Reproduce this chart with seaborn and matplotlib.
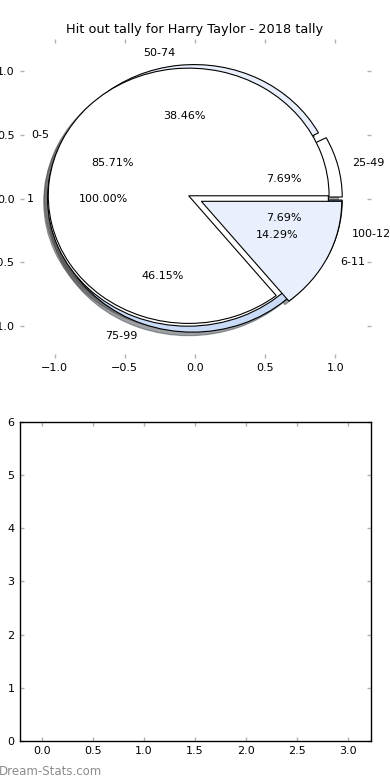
import matplotlib
matplotlib.use("Agg")
import numpy as np
import matplotlib.pyplot as plt
import seaborn as sns

title = "Hit out tally for Harry Taylor - 2018 tally"

# three tallies drawn on the same axes
games_labels = ["1"]
games_counts = [1]

hitout_labels = ["25-49", "50-74", "75-99", "100-124"]
hitout_counts = [1, 5, 6, 1]

kick_labels = ["0-5", "6-11"]
kick_counts = [6, 1]

pie_colors = ["white", "#e9effc", "#c9dbf7", "#a6c3ee"]

pie_ticks = [-1.0, -0.5, 0.0, 0.5, 1.0]
bottom_xticks = [0.0, 0.5, 1.0, 1.5, 2.0, 2.5, 3.0]
bottom_yticks = [0, 1, 2, 3, 4, 5, 6]

sns.set_style("white", {
    "xtick.direction": "in",
    "ytick.direction": "in",
    "xtick.top": True,
    "ytick.right": True,
    "xtick.bottom": True,
    "ytick.left": True,
    "axes.edgecolor": "black",
    "text.color": "black",
    "axes.labelcolor": "black",
})
plt.rcParams["font.family"] = ["DejaVu Sans"]
plt.rcParams["text.color"] = "black"
plt.rcParams["xtick.color"] = "#b0b0b0"
plt.rcParams["ytick.color"] = "#b0b0b0"
plt.rcParams["xtick.labelcolor"] = "black"
plt.rcParams["ytick.labelcolor"] = "black"
plt.rcParams["xtick.labelsize"] = 8
plt.rcParams["ytick.labelsize"] = 8
plt.rcParams["xtick.major.size"] = 3
plt.rcParams["ytick.major.size"] = 3
plt.rcParams["xtick.major.width"] = 1.0
plt.rcParams["ytick.major.width"] = 1.0

fig, (ax1, ax2) = plt.subplots(2, 1, figsize=(3.9, 7.8), dpi=100)
fig.subplots_adjust(left=0.05, right=0.95, top=0.95, bottom=0.05, hspace=0.2)

wp = dict(edgecolor="black", linewidth=0.8)
for labels, counts in [(hitout_labels, hitout_counts),
                       (games_labels, games_counts),
                       (kick_labels, kick_counts)]:
    ax1.pie(counts, labels=labels, autopct="%1.2f%%", explode=[0.05] * len(counts),
            shadow=True, colors=pie_colors[:len(counts)], wedgeprops=wp,
            textprops=dict(fontsize=8, color="black"))

ax1.set_aspect("auto")
ax1.set_frame_on(False)
ax1.set_xlim(-1.25, 1.25)
ax1.set_ylim(-1.25, 1.25)
ax1.set_xticks(pie_ticks)
ax1.set_yticks(pie_ticks)
ax1.set_title(title, fontsize=9.3, pad=4, color="black")

ax2.set_xlim(-0.2157, 3.2157)
ax2.set_ylim(0, 6)
ax2.set_xticks(bottom_xticks)
ax2.set_yticks(bottom_yticks)
for s in ax2.spines.values():
    s.set_color("black")
    s.set_linewidth(1)

fig.text(-0.004, 0.0115, "Dream-Stats.com", color="#8c8c8c", fontsize=8.5,
         ha="left", va="center")

fig.savefig("out.png", dpi=100)
